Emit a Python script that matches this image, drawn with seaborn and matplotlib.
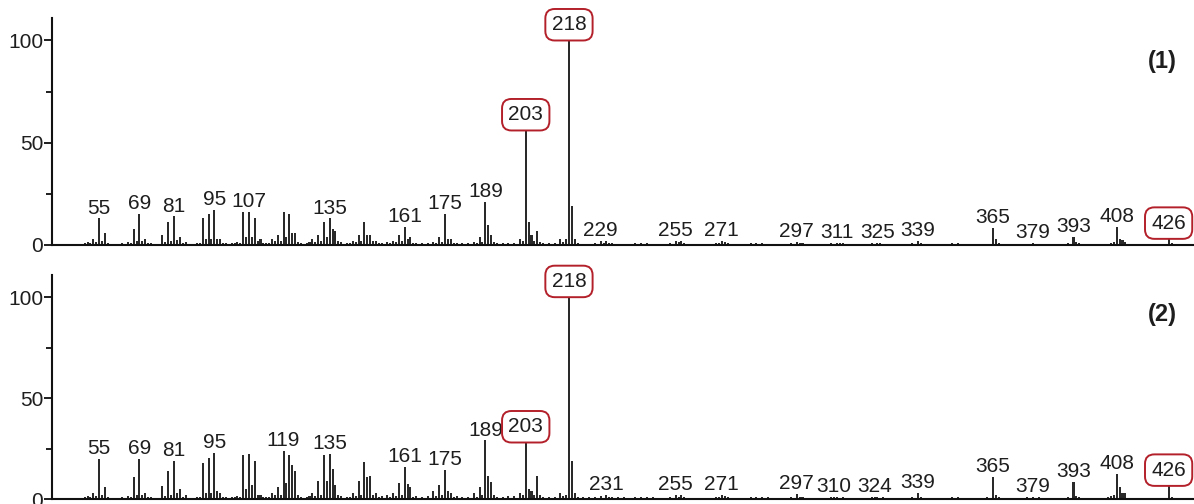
import matplotlib
matplotlib.use("Agg")
import matplotlib.pyplot as plt
from matplotlib import font_manager
import pandas as pd
import seaborn as sns

# ---- spectrum (1): m/z and relative intensity (%) ----
mz_1 = [
    50, 51, 52, 53, 54, 55, 56, 57, 58,
    63, 65, 66, 67, 68, 69, 70, 71, 72, 73,
    77, 78, 79, 80, 81, 82, 83, 84, 85,
    89, 90, 91, 92, 93, 94, 95, 96, 97, 98, 99,
    101, 102, 103, 104, 105, 106, 107, 108, 109, 110, 111, 112,
    113, 114, 115, 116, 117, 118, 119, 120, 121, 122, 123, 124, 125,
    127, 128, 129, 130, 131, 132, 133, 134, 135, 136, 137, 138, 139,
    141, 142, 143, 144, 145, 146, 147, 148, 149, 150, 151, 152, 153,
    155, 156, 157, 158, 159, 160, 161, 162, 163, 164, 165, 167,
    169, 171, 172, 173, 174, 175, 176, 177, 178, 179, 181,
    183, 185, 186, 187, 188, 189, 190, 191, 192, 193, 195,
    197, 199, 201, 202, 203, 204, 205, 206, 207, 208, 209, 211,
    213, 215, 216, 217, 218, 219, 220, 221,
    227, 229, 230, 231, 232, 233,
    241, 243, 245,
    253, 255, 256, 257, 258,
    269, 270, 271, 272, 273,
    281, 283, 285,
    295, 297, 298, 299,
    309, 311, 312, 313,
    323, 325, 326,
    337, 339, 340,
    351, 353,
    365, 366, 367,
    379,
    391, 393, 394, 395,
    406, 407, 408, 409, 410, 411,
    426, 427,
]
int_1 = [
    1, 1.5, 1, 3, 1.5, 13, 2, 6, 1,
    0.8, 1.5, 1, 8, 2, 15, 2, 3, 1, 1,
    5, 1.5, 11, 2, 14, 2.5, 4, 1, 1.5,
    1, 1, 13, 3, 15, 3, 17, 3, 3, 1, 1,
    1, 1, 1.5, 1, 16, 4, 16, 4, 13, 2, 3, 1,
    1, 1, 3, 2, 5, 2, 16, 4, 15, 6, 6, 1.5, 1,
    1, 1.5, 3, 1.5, 5, 2, 11, 4, 13, 8, 7, 2, 1.5,
    1, 1, 2, 1.5, 5, 2, 11, 5, 5, 2, 2, 1, 1,
    1.5, 1, 2, 1.5, 5, 2, 9, 3, 4, 1, 1, 1,
    1, 1.5, 1, 4, 1.5, 15, 3, 3, 1, 1, 1,
    1, 1.5, 1, 4, 1.5, 21, 10, 5, 1.5, 1, 1,
    1, 1, 3, 2, 56, 11, 5, 2, 7, 1.5, 1, 1,
    1, 3, 1.5, 3, 100, 19, 3, 1,
    1, 2, 1, 2, 1, 1,
    1, 1, 1,
    1, 2, 1.5, 2, 1,
    1, 1, 2, 1.5, 1,
    0.8, 0.8, 0.8,
    1, 1.5, 1, 1,
    0.8, 1, 0.8, 0.8,
    0.8, 1, 0.8,
    1, 2, 1,
    0.8, 0.8,
    8.5, 3, 1,
    1,
    1, 4, 1.5, 1,
    1, 1.5, 9, 3, 2.5, 1.5,
    3, 1,
]
labels_1 = [55, 69, 81, 95, 107, 135, 161, 175, 189, 203, 218, 229, 255, 271,
            297, 311, 325, 339, 365, 379, 393, 408, 426]
boxed_1 = [203, 218, 426]

# ---- spectrum (2) ----
mz_2 = [
    50, 51, 52, 53, 54, 55, 56, 57, 58,
    63, 65, 66, 67, 68, 69, 70, 71, 72, 73,
    77, 78, 79, 80, 81, 82, 83, 84, 85,
    89, 90, 91, 92, 93, 94, 95, 96, 97, 98, 99,
    101, 102, 103, 104, 105, 106, 107, 108, 109, 110, 111, 112,
    113, 114, 115, 116, 117, 118, 119, 120, 121, 122, 123, 124, 125,
    127, 128, 129, 130, 131, 132, 133, 134, 135, 136, 137, 138, 139,
    141, 142, 143, 144, 145, 146, 147, 148, 149, 150, 151, 152, 153,
    155, 156, 157, 158, 159, 160, 161, 162, 163, 164, 165, 167,
    169, 171, 172, 173, 174, 175, 176, 177, 178, 179, 181,
    183, 185, 186, 187, 188, 189, 190, 191, 192, 193, 195,
    197, 199, 201, 202, 203, 204, 205, 206, 207, 208, 209, 211,
    213, 215, 216, 217, 218, 219, 220, 221,
    223, 225, 227, 229, 231, 232, 233, 235, 237,
    241, 243, 245, 247,
    253, 255, 256, 257, 258,
    269, 270, 271, 272, 273,
    281, 283, 285, 287,
    295, 297, 298, 299,
    309, 310, 311, 313,
    323, 324, 325, 327,
    337, 339, 340,
    351, 353,
    363, 365, 366, 367,
    377, 379, 381,
    391, 393, 394, 395,
    405, 406, 407, 408, 409, 410, 411,
    426, 427,
]
int_2 = [
    1, 1.5, 1, 3, 1.5, 20, 2, 6, 1,
    0.8, 1.5, 1, 11, 2, 20, 2, 3, 1, 1,
    6.5, 1.5, 14, 2, 19, 3, 5, 1, 2,
    1, 1, 18, 3, 20.5, 3, 23, 4, 3, 1, 1,
    1, 1, 1.5, 1, 22, 5, 22.5, 7, 19, 2, 2, 1,
    1, 1, 3, 2, 6, 2, 24, 8, 22, 17, 14, 2, 1,
    1, 1.5, 3, 1.5, 9, 2, 22, 9, 22.5, 15, 7, 2, 1.5,
    1, 1, 3, 1.5, 9, 2, 18.5, 11, 11.5, 2, 3, 1, 1.5,
    2, 1, 3, 1.5, 8, 2, 16, 7.5, 6, 1, 1.5, 1,
    1.5, 4, 1.5, 7, 2, 14.5, 4, 3, 1, 1.5, 1,
    1, 3, 1, 6, 2, 29, 11.5, 8.5, 2, 1, 1,
    1.5, 1.5, 3, 2, 28, 5, 4, 2, 11.5, 2, 1, 1,
    1, 3, 1.5, 2, 100, 19, 3, 1,
    1, 1, 1, 1.5, 2, 1, 1, 1, 1,
    1, 1, 1, 0.8,
    1, 2, 1, 2, 1,
    1, 1, 2, 1.5, 1,
    0.8, 0.8, 0.8, 0.8,
    1, 2.5, 1, 1,
    0.8, 1, 1, 0.8,
    0.8, 1, 1, 0.8,
    1, 3, 1,
    0.8, 0.8,
    1, 11, 2, 1,
    0.8, 1, 0.8,
    1, 8.5, 1.5, 1,
    1, 1.5, 2, 12.5, 6, 3, 3,
    6.5, 1,
]
labels_2 = [55, 69, 81, 95, 119, 135, 161, 175, 189, 203, 218, 231, 255, 271,
            297, 310, 324, 339, 365, 379, 393, 408, 426]
boxed_2 = [203, 218, 426]

panel_tags = ["(1)", "(2)"]

STEM = "#2a2a2a"
RED = "#b3202a"
TXT = "#1e1e1e"

sns.set_theme(style="ticks")


def pick_font(names):
    for fam in names:
        try:
            font_manager.findfont(fam, fallback_to_default=False)
            return fam
        except ValueError:
            continue
    return "DejaVu Sans"


NARROW = pick_font(["Liberation Sans Narrow", "Liberation Sans", "DejaVu Sans"])
LABEL_SIZE = 16 if "Narrow" in NARROW else 15
plt.rcParams["font.family"] = [NARROW, "DejaVu Sans"]

fig = plt.figure(figsize=(11.94, 5.04), dpi=100)
fig.patch.set_facecolor("white")
ax1 = fig.add_axes([0.0436, 0.5139, 0.9564, 0.4504])
ax2 = fig.add_axes([0.0436, 0.0099, 0.9564, 0.4445])

spectra = [
    (ax1, mz_1, int_1, labels_1, boxed_1),
    (ax2, mz_2, int_2, labels_2, boxed_2),
]

for idx, (ax, mz, inten, labels, boxed) in enumerate(spectra):
    df = pd.DataFrame({"mz": mz, "intensity": inten})
    sns.histplot(data=df, x="mz", weights="intensity", discrete=True,
                 shrink=0.7, color=STEM, alpha=1.0, linewidth=0, ax=ax)

    ax.set_facecolor("white")
    ax.set_xlim(38.7, 434.8)
    ax.set_ylim(0, 111)
    ax.set_xlabel("")
    ax.set_ylabel("")
    ax.set_xticks([])
    ax.set_yticks([0, 50, 100])
    ax.set_yticks([25, 75], minor=True)
    ax.tick_params(axis="y", which="major", length=6, width=1.4, pad=0.3,
                   labelsize=LABEL_SIZE, colors=TXT, direction="out")
    ax.tick_params(axis="y", which="minor", length=4, width=1.4, colors=TXT,
                   direction="out")
    for side in ["top", "right"]:
        ax.spines[side].set_visible(False)
    for side in ["left", "bottom"]:
        ax.spines[side].set_linewidth(1.5)
        ax.spines[side].set_color("#111111")
    ax.grid(False)

    lookup = dict(zip(mz, inten))
    for m in labels:
        h = lookup[m]
        if m in boxed:
            pad = 0.3
            ax.annotate(str(m), xy=(m, h), xytext=(0, pad * LABEL_SIZE),
                        textcoords="offset points", ha="center", va="bottom",
                        fontsize=LABEL_SIZE, color=TXT,
                        bbox=dict(boxstyle=f"round,pad={pad},rounding_size=0.45",
                                  fc="white", ec=RED, lw=1.4))
        else:
            ax.annotate(str(m), xy=(m, h), xytext=(0, 3.5),
                        textcoords="offset points", ha="center", va="baseline",
                        fontsize=LABEL_SIZE, color=TXT)

    ax.text(0.972, 0.81 if idx == 0 else 0.825, panel_tags[idx],
            transform=ax.transAxes, ha="center", va="center",
            fontsize=17, fontweight="bold", color=TXT,
            family=["Liberation Sans", "DejaVu Sans"])

fig.savefig("out.png", dpi=100, facecolor="white")
